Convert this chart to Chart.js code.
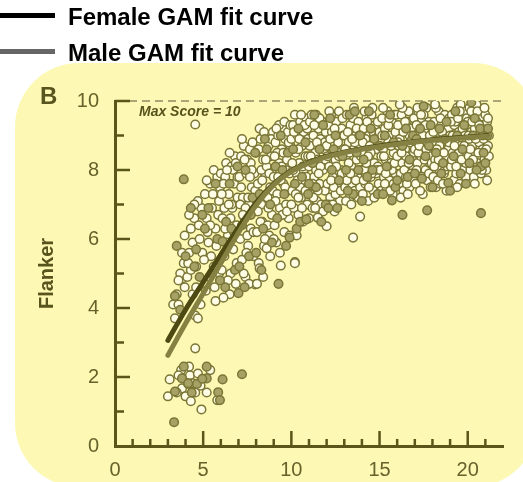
<!DOCTYPE html>
<html>
<head>
<meta charset="utf-8">
<script src="https://cdn.jsdelivr.net/npm/chart.js@4.4.1/dist/chart.umd.min.js"></script>
<style>
  body { margin: 0; background: #fff; }
  #wrap { position: relative; width: 523px; height: 482px; }
  #chart { position: absolute; left: 0; top: 0; }
  .key-line { position: absolute; left: 0; width: 55px; height: 5px; }
  .key-text { position: absolute; left: 68px; font: bold 24px "Liberation Sans", Arial, sans-serif; line-height: 24px; color: #000; white-space: nowrap; }
</style>
</head>
<body>
<div id="wrap">
  <canvas id="chart" width="523" height="482"></canvas>
  <div class="key-line" style="top:13px;background:#000;"></div>
  <div class="key-text" style="top:5px;">Female GAM fit curve</div>
  <div class="key-line" style="top:49px;background:#666;"></div>
  <div class="key-text" style="top:41px;">Male GAM fit curve</div>
</div>
<script>
// age (years) vs Flanker score, one entry per participant
const openScores = [
  [3.3,4.1],[3.4,3.7],[3.6,4.1],[3.5,4.4],[3.8,4.85],[3.95,4.6],[3.7,5.0],[3.9,5.3],[3.6,4.8],[3.8,5.6],[3.95,6.1],
  [4.1,4.9],[4.2,5.6],[4.3,6.3],[4.4,5.9],[4.5,6.6],[4.6,5.2],[4.55,3.78],[4.7,3.7],[4.4,4.4],[4.8,6.0],[4.9,6.9],[4.7,7.1],[4.2,6.7],[4.95,5.6],[4.3,5.1],[4.6,4.6],[4.85,4.1],[4.75,6.4],[4.15,5.3],[4.5,7.0],
  [5.1,7.3],[5.2,6.6],[5.3,5.9],[5.4,7.6],[5.5,6.9],[5.6,5.2],[5.7,6.3],[5.8,7.8],[5.9,7.1],[5.15,4.5],[5.35,4.9],[5.45,5.5],[5.65,4.6],[5.75,5.8],[5.85,6.7],[5.95,7.5],[5.25,6.2],[5.55,7.3],[5.05,5.4],[5.7,4.2],[5.9,5.0],[5.4,6.4],[5.6,8.0],[5.2,7.7],
  [6.0,7.9],[6.1,6.6],[6.2,5.5],[6.25,7.8],[6.3,8.2],[6.4,6.1],[6.45,7.3],[6.5,4.4],[6.55,5.0],[6.6,8.1],[6.65,6.9],[6.7,5.7],[6.75,7.6],[6.8,8.4],[6.85,4.7],[6.9,6.4],[6.95,7.2],[6.05,5.1],[6.15,4.3],[6.35,5.9],[6.5,8.5],[6.6,7.0],[6.2,6.9],[6.9,5.3],[6.4,4.8],[6.7,8.0],[6.05,7.3],
  [6.15,7.6],[6.35,8.0],[6.55,6.6],[6.75,6.2],[6.95,7.8],[6.45,7.0],[6.85,8.2],[6.25,6.3],
  [7.05,7.8],[7.1,6.0],[7.15,8.4],[7.2,5.4],[7.25,7.2],[7.3,8.7],[7.35,6.6],[7.4,4.9],[7.45,7.9],[7.5,8.3],[7.55,5.8],[7.6,7.0],[7.65,8.6],[7.7,6.3],[7.75,7.5],[7.8,8.8],[7.85,5.5],[7.9,6.8],[7.95,4.68],[7.1,7.0],[7.3,5.0],[7.5,6.1],[7.7,8.2],[7.9,7.9],[7.2,8.9],[7.6,4.7],[7.4,6.9],
  [7.15,7.5],[7.35,8.3],[7.55,7.2],[7.75,8.0],[7.95,7.4],[7.25,6.7],[7.45,5.6],[7.85,6.2],[7.65,7.8],
  [8.0,8.5],[8.05,6.2],[8.1,7.6],[8.15,5.3],[8.2,5.15],[8.25,8.9],[8.3,7.0],[8.35,6.5],[8.4,8.3],[8.45,5.8],[8.5,7.9],[8.55,9.0],[8.6,5.73],[8.65,7.2],[8.7,8.7],[8.75,6.1],[8.8,7.5],[8.85,8.4],[8.9,6.7],[8.95,9.1],[8.1,6.8],[8.3,8.0],[8.5,6.0],[8.7,6.9],[8.9,8.0],[8.2,9.2],[8.05,4.7],[8.4,4.9],[8.6,8.1],[8.8,5.5],
  [8.15,8.6],[8.35,7.7],[8.55,8.3],[8.75,7.9],[8.95,7.4],[8.25,6.5],[8.65,6.4],[8.45,9.1],[8.85,8.9],
  [9.0,7.8],[9.05,6.4],[9.1,8.8],[9.15,5.9],[9.2,7.3],[9.25,9.0],[9.3,8.2],[9.35,6.9],[9.4,5.23],[9.45,8.6],[9.5,9.2],[9.55,7.6],[9.6,6.2],[9.65,8.9],[9.7,7.0],[9.75,8.3],[9.8,9.1],[9.85,6.6],[9.9,7.9],[9.95,8.7],[9.1,7.1],[9.3,9.3],[9.5,6.7],[9.7,8.0],[9.9,6.1],[9.2,8.5],[9.4,7.7],[9.6,9.4],[9.8,7.4],[9.0,6.0],[9.35,5.6],
  [9.05,8.4],[9.25,7.8],[9.45,8.1],[9.65,7.5],[9.85,8.8],[9.15,9.2],[9.55,8.5],[9.75,6.8],[9.95,9.3],
  [10.0,8.9],[10.05,7.4],[10.1,9.3],[10.15,6.9],[10.2,5.33],[10.25,8.5],[10.3,7.9],[10.35,9.0],[10.4,6.7],[10.45,8.2],[10.5,9.4],[10.55,7.2],[10.6,8.7],[10.65,6.5],[10.7,9.1],[10.75,7.7],[10.8,8.4],[10.85,9.5],[10.9,7.0],[10.95,8.9],[10.1,8.0],[10.3,6.1],[10.5,7.5],[10.7,8.0],[10.9,9.2],[10.2,9.6],[10.4,8.6],[10.6,6.9],[10.8,7.4],[10.0,7.0],[10.35,7.7],[10.75,9.3],
  [10.05,8.2],[10.25,7.3],[10.45,8.9],[10.65,8.1],[10.85,7.8],[10.15,9.1],[10.55,9.6],[10.95,8.4],[10.4,7.2],
  [11.0,8.1],[11.05,9.4],[11.1,7.3],[11.15,8.8],[11.2,6.9],[11.25,9.0],[11.3,7.8],[11.35,8.5],[11.4,9.6],[11.45,7.1],[11.5,6.62],[11.5,8.3],[11.55,9.2],[11.6,7.6],[11.65,8.9],[11.7,7.0],[11.75,9.4],[11.8,8.0],[11.85,8.6],[11.9,7.4],[11.95,9.1],[11.1,8.4],[11.3,9.3],[11.5,7.4],[11.7,8.2],[11.9,8.8],[11.2,7.6],[11.4,8.0],[11.6,9.5],[11.8,6.8],[11.0,6.6],[11.35,6.9],
  [11.05,8.7],[11.25,7.2],[11.45,8.8],[11.65,8.1],[11.85,9.3],[11.15,9.6],[11.55,7.9],[11.95,8.3],[11.35,7.5],
  [12.0,8.7],[12.05,7.6],[12.1,9.3],[12.15,8.1],[12.2,7.2],[12.25,9.6],[12.3,8.5],[12.35,7.8],[12.4,9.0],[12.45,6.8],[12.5,8.3],[12.55,9.4],[12.6,7.5],[12.65,8.8],[12.7,9.7],[12.75,7.1],[12.8,8.0],[12.85,9.2],[12.9,7.7],[12.95,8.6],[12.1,7.0],[12.3,9.1],[12.5,7.3],[12.7,8.4],[12.9,9.5],[12.2,8.9],[12.4,7.5],[12.6,8.0],[12.8,7.4],
  [12.05,8.4],[12.25,7.7],[12.45,9.2],[12.65,8.5],[12.85,7.9],[12.15,9.7],[12.55,8.1],[12.95,9.0],[12.35,7.0],
  [13.0,9.0],[13.05,7.5],[13.1,8.4],[13.15,9.6],[13.2,7.9],[13.25,8.8],[13.3,7.2],[13.35,9.3],[13.4,8.1],[13.45,7.6],[13.5,6.04],[13.5,9.5],[13.55,8.6],[13.6,7.4],[13.65,9.0],[13.7,8.3],[13.75,7.8],[13.8,9.4],[13.85,8.7],[13.95,8.0],[13.1,7.1],[13.3,8.5],[13.5,7.9],[13.7,9.2],[13.9,7.5],[13.2,9.1],[13.4,7.0],[13.6,8.8],[13.8,7.2],
  [13.05,8.6],[13.25,8.2],[13.45,8.9],[13.65,7.7],[13.85,9.0],[13.15,7.7],[13.55,9.8],[13.95,8.4],[13.35,7.9],
  [14.0,8.5],[14.05,7.3],[14.1,9.2],[14.15,8.0],[14.2,7.6],[14.25,9.5],[14.3,8.7],[14.35,7.1],[14.4,9.0],[14.45,8.3],[14.5,7.8],[14.55,9.6],[14.6,8.9],[14.65,7.4],[14.7,8.2],[14.75,9.3],[14.8,7.9],[14.85,8.6],[14.9,9.4],[14.95,7.6],[14.1,7.7],[14.3,9.4],[14.5,8.5],[14.7,7.2],[14.9,8.1],[14.2,8.9],[14.4,7.5],[14.6,9.8],[14.8,8.8],
  [14.05,8.8],[14.25,8.2],[14.45,8.7],[14.65,9.1],[14.85,8.0],[14.15,9.7],[14.55,7.9],[14.95,9.0],[14.35,8.4],
  [15.0,9.1],[15.05,8.0],[15.1,7.4],[15.15,9.5],[15.2,8.6],[15.25,7.8],[15.3,9.2],[15.35,8.3],[15.4,7.5],[15.45,9.7],[15.5,8.8],[15.55,7.7],[15.6,9.0],[15.65,8.2],[15.7,9.4],[15.75,7.3],[15.8,8.5],[15.85,9.6],[15.9,7.9],[15.95,8.9],[15.1,8.4],[15.3,7.6],[15.5,9.3],[15.7,8.0],[15.9,9.1],[15.2,9.8],[15.4,8.9],[15.6,7.4],[15.8,7.6],
  [15.05,8.9],[15.25,8.4],[15.45,8.1],[15.65,8.7],[15.85,8.2],[15.15,9.0],[15.55,9.5],[15.95,9.6],[15.35,7.9],
  [16.0,8.4],[16.05,9.3],[16.1,7.6],[16.15,8.9],[16.2,7.9],[16.25,9.6],[16.3,8.2],[16.35,7.4],[16.4,9.1],[16.45,8.6],[16.5,7.8],[16.55,9.4],[16.6,8.0],[16.65,9.7],[16.7,7.5],[16.75,8.8],[16.8,9.2],[16.85,8.3],[16.9,7.7],[16.95,9.5],[16.1,8.7],[16.3,9.8],[16.5,8.4],[16.7,9.0],[16.9,8.1],[16.2,7.2],[16.4,8.0],[16.6,7.3],[16.8,7.9],
  [16.05,8.8],[16.25,8.5],[16.45,9.4],[16.65,8.2],[16.85,8.9],[16.15,9.9],[16.55,7.6],[16.95,8.5],[16.35,9.1],
  [17.0,8.6],[17.05,7.6],[17.1,9.3],[17.15,8.2],[17.2,9.7],[17.25,7.9],[17.3,8.9],[17.35,8.4],[17.4,9.5],[17.45,7.3],[17.5,8.7],[17.55,9.1],[17.6,8.0],[17.65,9.8],[17.7,7.7],[17.75,8.5],[17.8,9.4],[17.85,8.2],[17.9,7.5],[17.95,9.0],[17.1,8.0],[17.3,7.4],[17.5,9.6],[17.7,8.8],[17.9,8.4],[17.2,8.5],[17.4,7.8],[17.6,9.3],[17.8,7.9],
  [17.05,9.0],[17.25,8.7],[17.45,9.0],[17.65,8.6],[17.85,9.0],[17.15,9.8],[17.55,8.3],[17.95,8.2],[17.35,9.6],
  [18.0,8.8],[18.05,7.8],[18.1,9.4],[18.15,8.3],[18.2,7.5],[18.25,9.1],[18.3,8.6],[18.35,9.7],[18.4,8.0],[18.45,7.6],[18.5,9.3],[18.55,8.4],[18.6,8.9],[18.65,7.9],[18.7,9.6],[18.75,8.2],[18.8,7.4],[18.85,9.0],[18.9,8.6],[18.95,9.5],[18.1,8.1],[18.3,7.7],[18.5,8.8],[18.7,8.0],[18.9,9.2],[18.2,9.8],[18.4,8.7],[18.6,7.6],[18.8,8.4],
  [18.05,9.1],[18.25,8.6],[18.45,9.5],[18.65,8.5],[18.85,8.1],[18.15,9.9],[18.55,9.1],[18.95,8.8],[18.35,8.3],
  [19.0,9.0],[19.05,8.1],[19.1,9.6],[19.15,8.5],[19.2,7.7],[19.25,9.3],[19.3,8.8],[19.35,7.9],[19.4,9.8],[19.45,8.3],[19.5,9.1],[19.55,7.6],[19.6,8.7],[19.65,9.5],[19.7,8.0],[19.75,9.0],[19.8,8.4],[19.85,9.7],[19.9,7.8],[19.95,8.9],[19.1,8.3],[19.3,9.4],[19.5,8.5],[19.7,9.2],[19.9,8.2],[19.2,9.0],[19.4,7.5],[19.6,9.9],[19.8,8.7],
  [19.05,9.4],[19.25,8.7],[19.45,9.5],[19.65,8.3],[19.85,9.0],[19.15,9.0],[19.55,9.7],[19.95,9.5],[19.35,8.1],
  [20.0,9.4],[20.05,8.4],[20.1,9.8],[20.15,8.0],[20.2,9.1],[20.25,8.7],[20.3,9.6],[20.35,7.8],[20.4,9.2],[20.45,8.5],[20.5,9.9],[20.55,8.2],[20.6,9.0],[20.65,8.8],[20.7,9.5],[20.75,7.9],[20.8,9.3],[20.85,8.6],[20.9,9.7],[20.95,8.3],[21.0,9.1],[21.05,8.0],[21.1,9.4],[21.15,8.7],[21.2,9.0],[20.1,8.9],[20.3,8.3],[20.5,9.4],[20.7,8.1],[20.9,8.9],[21.0,9.6],[21.1,7.7],[20.2,9.7],[20.4,7.6],[20.6,8.5],[20.8,8.0],[21.2,8.4],
  [20.05,9.0],[20.25,9.4],[20.45,8.9],[20.65,9.3],[20.85,9.0],[21.05,8.6],[20.15,8.6],[20.55,9.7],[20.95,9.8],[21.15,9.5],
  // low scorers and strays
  [4.55,2.83],[3.1,1.93],[4.9,1.06],[3.0,1.44],[5.2,1.55],[5.8,1.33],[3.75,2.2],[5.4,2.2],[4.25,2.05],[4.4,1.82],[3.8,1.67],[4.0,1.44],[4.55,1.55],[4.15,1.8],[3.5,1.55],[4.7,2.1],[4.2,2.3],[3.6,2.05],[4.85,1.75],[4.3,1.3],
  [4.55,9.32],[10.2,5.3],[12.0,6.37],[11.5,6.62],[13.9,6.65]
];

const filledScores = [
  [3.5,5.8],[4.0,5.5],[3.4,4.35],[3.7,3.95],
  [4.5,5.2],[4.3,6.9],[4.8,4.9],[4.95,6.7],[4.6,5.7],
  [5.3,6.9],[5.5,5.0],[5.8,6.0],[5.1,6.3],[5.7,7.6],[5.95,4.8],
  [6.1,5.93],[6.3,6.5],[6.5,7.6],[6.8,5.1],[6.95,8.1],[6.25,4.6],[6.6,6.3],[7.0,4.43],
  [7.2,6.4],[7.4,8.0],[7.6,5.5],[7.8,7.2],[7.35,4.6],[7.95,8.5],[7.05,5.2],[7.7,6.7],
  [8.2,7.3],[8.4,6.3],[8.6,8.6],[8.8,7.0],[8.0,5.6],[8.9,5.9],[8.5,8.9],[8.3,5.1],
  [9.27,4.7],[9.9,6.04],[9.1,8.1],[9.4,9.0],[9.6,7.3],[9.8,8.5],[9.2,6.6],[9.7,5.8],[9.5,8.0],
  [10.3,6.3],[10.5,6.5],[10.85,6.57],[10.1,8.6],[10.4,9.2],[10.6,7.8],[10.8,8.8],[10.95,7.3],[10.2,7.6],
  [11.2,8.2],[11.4,7.5],[11.6,8.6],[11.8,9.3],[11.0,7.6],[11.95,7.0],[11.3,9.6],[11.7,6.5],
  [12.1,6.9],[12.3,8.0],[12.5,9.0],[12.7,7.7],[12.9,8.4],[12.2,9.5],[12.6,6.9],[12.4,8.6],
  [13.1,8.0],[13.3,9.6],[13.5,7.3],[13.7,8.5],[13.9,9.0],[13.2,7.4],[13.6,9.7],[13.8,8.0],
  [14.1,8.3],[14.3,7.8],[14.5,9.2],[14.7,8.9],[14.9,7.3],[14.4,9.7],[14.0,7.1],[14.6,8.0],
  [15.7,7.12],[15.2,7.3],[15.4,8.1],[15.6,9.6],[15.8,8.8],[15.0,8.7],[15.9,7.5],[15.3,9.0],
  [16.3,6.7],[16.0,7.7],[16.3,8.7],[16.5,9.2],[16.7,8.3],[16.9,9.0],[16.6,7.8],
  [17.5,9.85],[17.7,6.83],[17.4,7.75],[17.1,8.9],[17.3,9.2],[17.6,8.4],[17.8,8.7],[17.0,7.9],[17.9,9.3],
  [18.9,7.63],[18.2,8.5],[18.4,9.2],[18.6,8.2],[18.8,9.4],[18.0,7.5],[18.5,7.9],[18.7,8.9],
  [19.2,8.4],[19.4,9.0],[19.6,7.9],[19.8,9.3],[19.0,7.4],[19.3,9.7],[19.7,8.6],[19.9,7.6],
  [20.75,6.75],[20.75,8.1],[20.2,9.96],[20.1,8.2],[20.3,9.0],[20.5,8.0],[20.7,9.2],[20.9,8.5],[21.1,9.0],[21.0,8.2],[20.4,9.5],[21.15,9.2],
  // low scorers and strays
  [7.2,2.08],[6.1,1.93],[3.35,0.69],[5.85,1.56],[5.95,1.33],[3.9,2.3],[5.2,2.3],[3.8,1.96],[5.2,1.96],[3.4,1.58],[4.35,1.55],[4.15,1.82],[4.65,1.8],[4.95,1.95],
  [3.9,7.73]
];

// GAM fits by sex
const femaleFit = [[3.0,3.06],[4,3.95],[5,4.75],[6,5.55],[7,6.33],[8,7.05],[9,7.6],[10,7.98],[11,8.22],[12,8.4],[14,8.62],[16,8.77],[18,8.88],[20,8.96],[21.1,9.0]];
const maleFit = [[3.0,2.63],[4,3.55],[5,4.42],[6,5.3],[7,6.18],[8,6.98],[9,7.57],[10,7.96],[11,8.2],[12,8.38],[14,8.6],[16,8.75],[18,8.86],[20,8.94],[21.1,8.98]];

const MAX_SCORE = 10;

const axisColor = '#5a5619';
const labelColor = '#66622b';
const FONT = '"Liberation Sans", Arial, sans-serif';

function rounded(ctx, x, y, w, h, r) {
  ctx.beginPath();
  ctx.moveTo(x + r, y);
  ctx.arcTo(x + w, y, x + w, y + h, r);
  ctx.arcTo(x + w, y + h, x, y + h, r);
  ctx.arcTo(x, y + h, x, y, r);
  ctx.arcTo(x, y, x + w, y, r);
  ctx.closePath();
}

const panel = {
  id: 'panel',
  beforeDraw(chart) {
    const ctx = chart.ctx;
    ctx.save();
    ctx.fillStyle = '#fdf9b4';
    rounded(ctx, 15, 63, 522, 424, 64);
    ctx.fill();
    ctx.restore();
  },
  beforeDatasetsDraw(chart) {
    const {ctx, scales: {x, y}} = chart;
    ctx.save();
    // max score line
    const top = y.getPixelForValue(MAX_SCORE);
    ctx.strokeStyle = '#aaa678';
    ctx.lineWidth = 2;
    ctx.setLineDash([8, 5]);
    ctx.beginPath();
    ctx.moveTo(x.left + 14, top);
    ctx.lineTo(x.right - 2, top);
    ctx.stroke();
    ctx.setLineDash([]);

    // inward ticks
    ctx.strokeStyle = axisColor;
    ctx.lineWidth = 2.5;
    ctx.beginPath();
    for (let v = 1; v <= 21; v++) {
      const px = x.getPixelForValue(v);
      ctx.moveTo(px, y.bottom);
      ctx.lineTo(px, y.bottom - (v % 5 === 0 ? 15 : 7));
    }
    for (let v = 1; v <= 10; v++) {
      const py = y.getPixelForValue(v);
      ctx.moveTo(x.left, py);
      ctx.lineTo(x.left + (v % 2 === 0 ? 15 : 9), py);
    }
    ctx.stroke();

    ctx.fillStyle = '#58541d';
    ctx.font = 'italic bold 14px ' + FONT;
    ctx.textBaseline = 'alphabetic';
    ctx.fillText('Max Score = ' + MAX_SCORE, x.left + 24, top + 15);

    ctx.font = 'bold 24px ' + FONT;
    ctx.fillText('B', 40, 104);
    ctx.restore();
  }
};

const dot = {
  pointRadius: 4.3,
  pointBorderWidth: 1.5,
  pointBorderColor: '#7a7636',
  showLine: false
};

new Chart(document.getElementById('chart'), {
  type: 'scatter',
  data: {
    datasets: [
      { label: 'Male GAM fit curve', data: maleFit, showLine: true, pointRadius: 0,
        borderColor: '#858142', borderWidth: 5, borderCapStyle: 'round', cubicInterpolationMode: 'monotone', order: 0 },
      { label: 'Female GAM fit curve', data: femaleFit, showLine: true, pointRadius: 0,
        borderColor: '#4c4912', borderWidth: 5, borderCapStyle: 'round', cubicInterpolationMode: 'monotone', order: 1 },
      Object.assign({ label: 'filled', data: filledScores, pointBackgroundColor: '#a6a266', order: 2 }, dot),
      Object.assign({ label: 'open', data: openScores, pointBackgroundColor: '#fffde6', order: 3 }, dot)
    ]
  },
  plugins: [panel],
  options: {
    responsive: false,
    animation: false,
    devicePixelRatio: 1,
    layout: { padding: { top: 101, left: 15, right: 20, bottom: 0 } },
    plugins: { legend: { display: false }, tooltip: { enabled: false } },
    scales: {
      x: {
        type: 'linear', min: 0, max: 22,
        grid: { display: false, drawTicks: false },
        border: { display: true, color: axisColor, width: 3 },
        ticks: { stepSize: 5, padding: 12, color: labelColor, font: { family: FONT, size: 20 } },
        afterBuildTicks: s => { s.ticks = s.ticks.filter(t => t.value % 5 === 0); },
        afterFit: s => { s.height = 36; }
      },
      y: {
        min: 0, max: 10,
        grid: { display: false, drawTicks: false },
        border: { display: true, color: axisColor, width: 3 },
        ticks: { stepSize: 2, padding: 16, color: labelColor, font: { family: FONT, size: 20 } },
        title: { display: true, text: 'Flanker', color: '#58541d', padding: { top: 20 },
          font: { family: FONT, size: 20, weight: 'bold' } },
        afterFit: s => { s.width = 100; }
      }
    }
  }
});
</script>
</body>
</html>
